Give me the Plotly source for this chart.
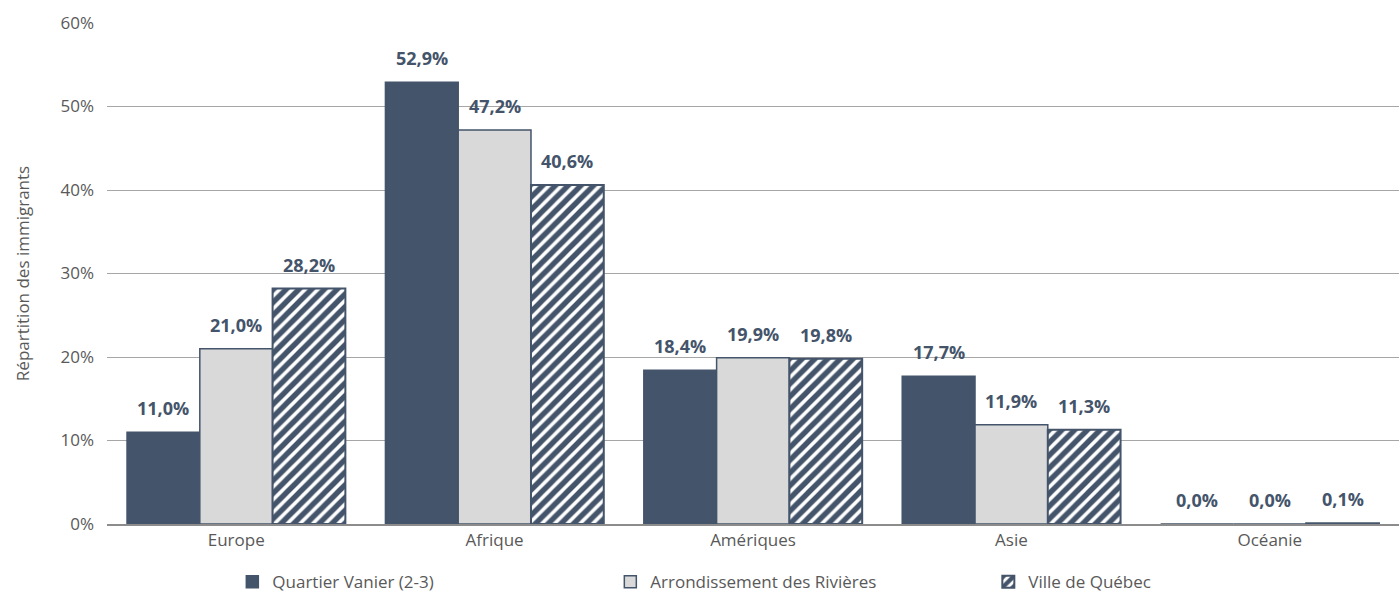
import plotly.graph_objects as go

categories = ["Europe", "Afrique", "Amériques", "Asie", "Océanie"]
series_names = ["Quartier Vanier (2-3)", "Arrondissement des Rivières", "Ville de Québec"]
vanier = [0.110, 0.529, 0.184, 0.177, 0.000]
rivieres = [0.210, 0.472, 0.199, 0.119, 0.000]
quebec = [0.282, 0.406, 0.198, 0.113, 0.001]
tick_vals = [0, 0.1, 0.2, 0.3, 0.4, 0.5, 0.6]

dark = "#44546A"
grey_txt = "#595959"
font_family = "Open Sans, Liberation Sans, sans-serif"
bargap = 0.155
fs = 17

styles = [
    dict(color=dark, line=dict(color=dark, width=1.5)),
    dict(color="#D9D9D9", line=dict(color=dark, width=1.5)),
    dict(color="white", line=dict(color=dark, width=2),
         pattern=dict(shape="/", fgcolor=dark, bgcolor="white", fgopacity=1,
                      size=9, solidity=0.6)),
]
series_values = [vanier, rivieres, quebec]

fig = go.Figure()
for name, vals, mk in zip(series_names, series_values, styles):
    fig.add_trace(go.Bar(name=name, x=categories, y=vals, marker=mk, cliponaxis=False))

# value labels above bars, positioned from category index + group offset
n = len(series_values)
bar_w = (1 - bargap) / n
annotations = []
for i, vals in enumerate(series_values):
    off = (i - (n - 1) / 2) * bar_w
    for j, v in enumerate(vals):
        annotations.append(dict(
            x=j + off, y=v, xref="x", yref="y",
            text=f"{v*100:.1f}%".replace(".", ","),
            showarrow=False, yanchor="middle", yshift=24,
            font=dict(color=dark, size=18, family=font_family, weight="bold"),
        ))

fig.update_layout(
    width=1399, height=601,
    barmode="group", bargap=bargap, bargroupgap=0,
    separators=", ",
    plot_bgcolor="white", paper_bgcolor="white",
    margin=dict(l=107, r=0, t=23, b=77),
    font=dict(family=font_family, color=grey_txt, size=fs),
    showlegend=True,
    annotations=annotations,
    legend=dict(orientation="h", x=0.097, xanchor="left", y=-0.152, yanchor="bottom",
                entrywidth=333, font=dict(size=fs, color=grey_txt),
                itemwidth=30, traceorder="normal"),
    xaxis=dict(showline=True, linecolor="#8C8C8C", linewidth=1.5, ticks="",
               automargin=False, tickfont=dict(size=fs, color=grey_txt)),
    yaxis=dict(range=[0, 0.6], tickvals=tick_vals, tickformat=".0%",
               showgrid=True, gridcolor="#A6A6A6", gridwidth=1,
               zeroline=False, showline=False, automargin=False,
               tickfont=dict(size=fs, color=grey_txt),
               ticklabelstandoff=12,
               title=dict(text="Répartition des immigrants", font=dict(size=fs, color=grey_txt), standoff=26)),
)

fig.write_html("out.html", config={"displayModeBar": False},
               post_script="document.body.style.margin='0px';")
